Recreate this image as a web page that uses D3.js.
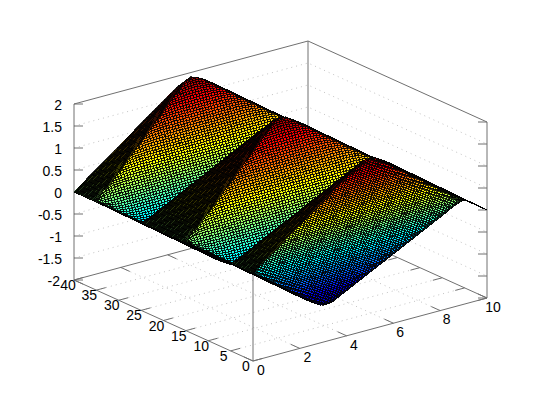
<!DOCTYPE html>
<html><head><meta charset="utf-8">
<script src="https://cdn.jsdelivr.net/npm/d3@7"></script>
<style>html,body{margin:0;background:#fff}svg{display:block}text{font-family:"Liberation Sans",sans-serif;font-size:14px;fill:#000}</style>
</head><body><div id="c"></div>
<script>
// Tick labels
const xTicks=[0,2,4,6,8,10];
const yTicks=[0,5,10,15,20,25,30,35,40];
const zTicks=[-2,-1.5,-1,-0.5,0,0.5,1,1.5,2];
// Surface heights, in hundredths. One row per y step (0.125),
// one value per x step (0.125) from x = 0; a row's last value holds up to x = 5.
// The picture repeats: mirrored about x = 5, and this quarter of the y period
// (y = 0..5) repeats with flips over y = 0..40.
const xStep=0.125, yStep=0.125, xColumns=41;
const surfaceRows=[
[0,5,10,15,20,25,30,35,40,45,50,55,60,65,70,75,80,85,90,95,100,105,110,115,120,125,130,135,140,145,150,155,160,165,169,174,178,181,184,187,190],
[0,5,10,15,20,25,30,35,40,45,50,55,60,65,70,75,80,85,90,95,100,105,110,115,120,125,130,135,140,145,150,155,160,165,169,174,178,182,186,188,188],
[0,5,10,15,20,25,30,35,40,45,50,55,60,65,70,75,80,85,90,95,100,105,110,115,120,125,130,135,140,145,150,155,160,165,169,174,178,182,186],
[0,5,10,15,20,25,30,35,40,45,50,55,60,65,70,75,80,85,90,95,100,105,110,115,120,125,130,135,140,145,150,155,160,164,169,173,177,181,182,183],
[0,5,10,15,20,25,30,35,40,45,50,55,60,65,70,75,80,85,90,95,100,105,110,115,120,125,130,135,140,145,150,155,159,164,168,172,176,177,178,179],
[0,5,10,15,20,25,30,35,40,45,50,55,60,65,70,75,80,85,90,95,100,105,110,115,120,125,130,135,140,145,150,154,159,163,167,171,172,173,174,174,175],
[0,5,10,15,20,25,30,35,40,45,50,55,60,65,70,75,80,85,90,95,100,105,110,115,120,125,130,135,140,145,149,154,158,162,166,167,168,169,169,170],
[0,5,10,15,20,25,30,35,40,45,50,55,60,65,70,75,80,85,90,95,100,105,110,115,120,125,130,135,140,144,149,153,157,161,162,163,164,164,165],
[0,5,10,15,20,25,30,35,40,45,50,55,60,65,70,75,80,85,90,95,100,105,110,115,120,125,130,135,139,144,148,152,156,157,158,159,159,160],
[0,5,10,15,20,25,30,35,40,45,50,55,60,65,70,75,80,85,90,95,100,105,110,115,120,125,130,134,139,143,147,151,152,153,154,154,155],
[0,5,10,15,20,25,30,35,40,45,50,55,60,65,70,75,80,85,90,95,100,105,110,115,120,125,129,134,138,142,146,147,148,149,149,150],
[0,5,10,15,20,25,30,35,40,45,50,55,60,65,70,75,80,85,90,95,100,105,110,115,120,124,129,133,137,141,142,143,144,144,145],
[0,5,10,15,20,25,30,35,40,45,50,55,60,65,70,75,80,85,90,95,100,105,110,115,119,124,128,132,136,137,138,139,139,140],
[0,5,10,15,20,25,30,35,40,45,50,55,60,65,70,75,80,85,90,95,100,105,110,114,119,123,127,131,132,133,134,134,135],
[0,5,10,15,20,25,30,35,40,45,50,55,60,65,70,75,80,85,90,95,100,105,109,114,118,122,126,127,128,129,129,130],
[0,5,10,15,20,25,30,35,40,45,50,55,60,65,70,75,80,85,90,95,100,104,109,113,117,121,122,123,124,124,125],
[0,5,10,15,20,25,30,35,40,45,50,55,60,65,70,75,80,85,90,95,99,104,108,112,116,117,118,119,119,120],
[0,5,10,15,20,25,30,35,40,45,50,55,60,65,70,75,80,85,90,94,99,103,107,111,112,113,114,114,115],
[0,5,10,15,20,25,30,35,40,45,50,55,60,65,70,75,80,85,89,94,98,102,106,107,108,109,109,110],
[0,5,10,15,20,25,30,35,40,45,50,55,60,65,70,75,80,84,89,93,97,101,102,103,104,104,105],
[0,5,10,15,20,25,30,35,40,45,50,55,60,65,70,75,79,84,88,92,96,97,98,99,99,100],
[0,5,10,15,20,25,30,35,40,45,50,55,60,65,70,74,79,83,87,91,92,93,94,94,95],
[0,5,10,15,20,25,30,35,40,45,50,55,60,65,69,74,78,82,86,87,88,89,89,90],
[0,5,10,15,20,25,30,35,40,45,50,55,60,64,69,73,77,81,82,83,84,84,85],
[0,5,10,15,20,25,30,35,40,45,50,55,59,64,68,72,76,77,78,79,79,80],
[0,5,10,15,20,25,30,35,40,45,50,54,59,63,67,71,72,73,74,74,75],
[0,5,10,15,20,25,30,35,40,45,49,54,58,62,66,67,68,69,69,70],
[0,5,10,15,20,25,30,35,40,44,49,53,57,61,62,63,64,64,65],
[0,5,10,15,20,25,30,35,39,44,48,52,56,57,58,59,59,60],
[0,5,10,15,20,25,30,34,39,43,47,51,52,53,54,54,55],
[0,5,10,15,20,25,29,34,38,42,46,47,48,49,49,50],
[0,5,10,15,20,24,29,33,37,41,42,43,44,44,45],
[0,5,10,15,19,24,28,32,36,37,38,39,39,40],
[0,5,10,14,19,23,27,31,32,33,34,34,35],
[0,5,9,14,18,22,26,27,28,29,29,30],
[0,4,8,12,16,20,22,23,24,24,25],
[0,4,8,12,15,17,18,19,19,20],
[0,3,6,9,11,13,14,14,15],
[0,3,6,8,9,9,10],
[0,2,3,4,4,5],
[0]
];
const xDomain=[0,10], yDomain=[0,40], zDomain=[-2,2];
const jetStops=[-2,-1.5,-0.5,0,0.5,1.5,2];
const jetColors=["#00008f","#0000ff","#00ffff","#80ff80","#ffff00","#ff0000","#800000"];

// Oblique projection, each axis a d3 scale giving its screen offset
const xToU=d3.scaleLinear(xDomain,[0,234]), xToV=d3.scaleLinear(xDomain,[0,-63]);
const yToU=d3.scaleLinear(yDomain,[0,-179]), yToV=d3.scaleLinear(yDomain,[0,-81]);
const zToV=d3.scaleLinear(zDomain,[0,-176]);
const P=(x,y,z)=>[253+xToU(x)+yToU(y),361+xToV(x)+yToV(y)+zToV(z)];
const palette=d3.scaleLinear(jetStops,jetColors);

// look up a table value, using the mirror and repeat visible in the picture
function zAt(i,j){ // i, j = mesh indices over the whole surface
  const lastCol=xColumns-1, q=surfaceRows.length-1;
  const jj=j>lastCol?2*lastCol-j:j;
  let ii=i%(4*q); if(ii>2*q) ii=4*q-ii;
  const flip=ii>q, row=surfaceRows[flip?2*q-ii:ii];
  const v=row[Math.min(jj,row.length-1)]/100;
  return flip?-v:v;
}

const svg=d3.select("#c").append("svg").attr("width",560).attr("height",420);
const line=d3.line();
const gridG=svg.append("g").attr("fill","none").attr("stroke","#c4c4c4").attr("stroke-dasharray","1 4");
const addGrid=pts=>gridG.append("path").attr("d",line(pts));
zTicks.slice(1,-1).forEach(z=>addGrid([P(0,40,z),P(10,40,z),P(10,0,z)]));
xTicks.slice(1,-1).forEach(x=>addGrid([P(x,0,-2),P(x,40,-2)]));
yTicks.slice(1,-1).forEach(y=>addGrid([P(0,y,-2),P(10,y,-2)]));

const frameG=svg.append("g").attr("fill","none").attr("stroke","#707070");
const addFrame=pts=>frameG.append("path").attr("d",line(pts));
addFrame([P(0,40,-2),P(0,0,-2),P(10,0,-2),P(10,40,-2),P(0,40,-2)]);
addFrame([P(0,40,-2),P(0,40,2),P(10,40,2),P(10,0,2),P(10,0,-2)]);
addFrame([P(10,40,-2),P(10,40,2)]);
addFrame([P(0,0,-2),P(0,0,2)]);
xTicks.forEach(x=>{addFrame([P(x,0,-2),P(x,2,-2)]);addFrame([P(x,40,-2),P(x,38,-2)]);});
yTicks.forEach(y=>{addFrame([P(0,y,-2),P(0.4,y,-2)]);addFrame([P(10,y,-2),P(9.6,y,-2)]);});
zTicks.forEach(z=>{const a=P(0,40,z),b=P(10,0,z);addFrame([a,[a[0]+9,a[1]]]);addFrame([b,[b[0]-9,b[1]]]);});

// surface, painted from the far corner to the near one
const surf=svg.append("g").attr("stroke","#000").attr("stroke-opacity",0.8).attr("stroke-width",1).attr("shape-rendering","crispEdges");
const nx=2*(xColumns-1), ny=Math.round((yDomain[1]-yDomain[0])/yStep);
for(let i=ny-1;i>=0;i--){
  for(let j=nx-1;j>=0;j--){
    const q=[[i,j],[i,j+1],[i+1,j+1],[i+1,j]].map(([a,b])=>[b*xStep,a*yStep,zAt(a,b)]);
    const mean=d3.mean(q,d=>d[2]);
    surf.append("path").attr("d",line(q.map(d=>P(...d)))+"Z").attr("fill",palette(mean));
  }
}

const txt=svg.append("g");
zTicks.forEach(z=>{const a=P(0,40,z);txt.append("text").attr("x",z===-2?60:62).attr("y",a[1]+6).attr("text-anchor","end").text(String(z));});
yTicks.forEach(y=>{const a=P(0,y,-2);txt.append("text").attr("x",a[0]-7+(y===40?1:0)).attr("y",a[1]+10).attr("text-anchor","middle").text(y);});
xTicks.forEach(x=>{const a=P(x,0,-2);txt.append("text").attr("x",a[0]+8-x*0.2).attr("y",a[1]+14-x*0.05).attr("text-anchor","middle").text(x);});
</script></body></html>
